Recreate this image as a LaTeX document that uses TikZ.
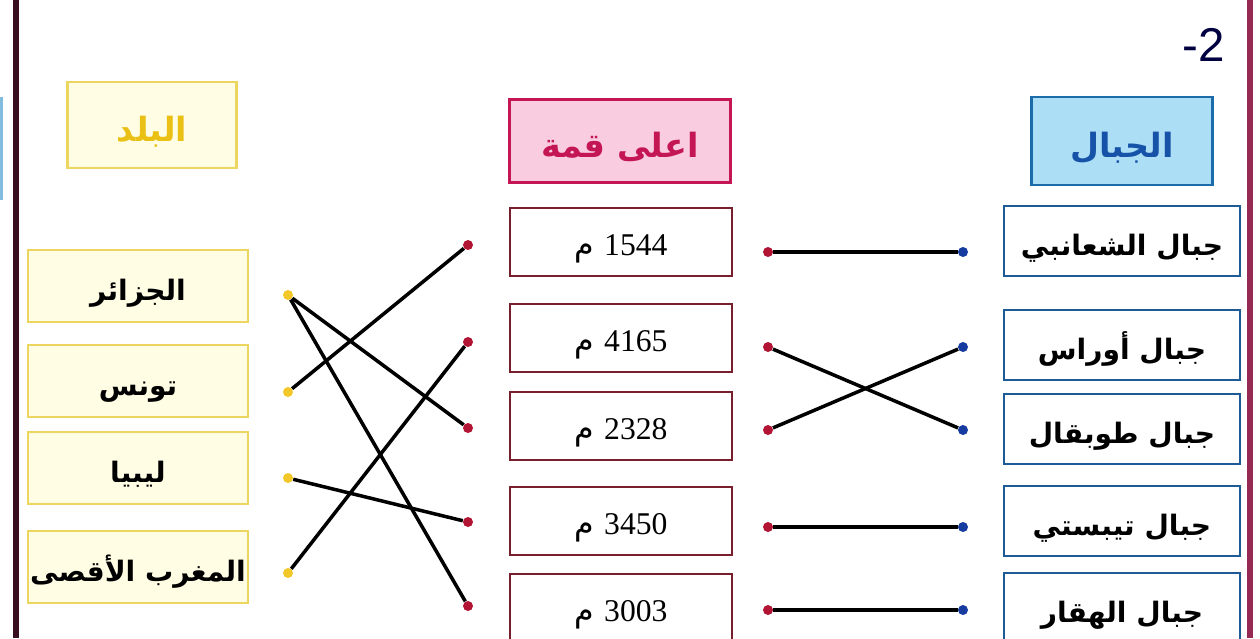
\documentclass[tikz,border=0pt]{standalone}
\usepackage{fontspec}
\setmainfont{Liberation Serif}
\setsansfont{Liberation Sans}
\newfontfamily\arabicfont[Script=Arabic]{DejaVu Sans}
\TeXXeTstate=1
\usepackage{xcolor}
\usetikzlibrary{positioning}

\definecolor{ylwline}{RGB}{236,214,96}
\definecolor{ylwfill}{RGB}{255,253,228}
\definecolor{ylwtext}{RGB}{234,192,20}
\definecolor{pkline}{RGB}{196,22,82}
\definecolor{pkfill}{RGB}{250,204,224}
\definecolor{pkitem}{RGB}{120,30,45}
\definecolor{blline}{RGB}{28,108,170}
\definecolor{blfill}{RGB}{172,222,246}
\definecolor{bltext}{RGB}{22,82,168}
\definecolor{blitem}{RGB}{30,90,150}
\definecolor{dotyl}{RGB}{242,200,40}
\definecolor{dotrd}{RGB}{178,20,52}
\definecolor{dotbl}{RGB}{22,60,160}
\definecolor{frameL}{RGB}{55,15,32}
\definecolor{frameR}{RGB}{150,40,84}

\newcommand\ar[1]{{\beginR #1\endR}}
\newcommand\hgt[1]{{\beginR\beginL{\rmfamily #1}\endL{} م\endR}}

\begin{document}
\begin{tikzpicture}[x=0.2mm,y=-0.2mm,
  every node/.style={inner sep=0pt},
  arfont/.style={font=\arabicfont\bfseries\fontsize{16}{18}\selectfont, text height=6.4mm, text depth=0.6mm},
  hdrfont/.style={font=\arabicfont\bfseries\fontsize{19}{22}\selectfont, text height=7mm, text depth=0.5mm},
  country/.style={draw=ylwline, fill=ylwfill, line width=1.1pt, minimum width=44mm, minimum height=14.4mm, arfont},
  peak/.style={draw=pkitem, fill=white, line width=1.1pt, minimum width=44.4mm, minimum height=13.6mm, font=\fontsize{18}{20}\selectfont, text height=5.2mm, text depth=0mm},
  mountain/.style={draw=blitem, fill=white, line width=1.3pt, minimum width=47.2mm, minimum height=14mm, arfont},
  ydot/.style={circle, fill=dotyl, minimum size=2mm},
  rdot/.style={circle, fill=dotrd, minimum size=2mm},
  bdot/.style={circle, fill=dotbl, minimum size=2mm},
  link/.style={line width=2pt, black}]
\useasboundingbox (0,0) rectangle (1260,638);
\clip (0,0) rectangle (1260,638);

% page frame
\fill[blfill!70!blline] (0,97) rectangle (3,200);
\draw[frameL, line width=3pt] (16,0) -- (16,638);
\draw[frameR, line width=3pt] (1250,0) -- (1250,638);
\node[text=black!75!blue, font=\sffamily\fontsize{27}{30}\selectfont] (num) at (1204,45) {-2};

% headers
\node[hdrfont, draw=ylwline, fill=ylwfill, line width=1.4pt, minimum width=33.8mm, minimum height=17.2mm, text=ylwtext] (hcountry) at (152,125) {\ar{البلد}};
\node[hdrfont, draw=pkline, fill=pkfill, line width=1.6pt, minimum width=44.2mm, minimum height=16.6mm, text=pkline] (hpeak) at (620,141) {\ar{اعلى قمة}};
\node[hdrfont, draw=blline, fill=blfill, line width=1.6pt, minimum width=36.2mm, minimum height=17.6mm, text=bltext] (hmount) at (1122,141) {\ar{الجبال}};

% countries
\node[country] (dz) at (138,286) {\ar{الجزائر}};
\node[country] (tn) at (138,381) {\ar{تونس}};
\node[country] (ly) at (138,468) {\ar{ليبيا}};
\node[country] (ma) at (138,567) {\ar{المغرب الأقصى}};

% heights
\node[peak] (p1) at (621,242) {\arabicfont\hgt{1544}};
\node[peak] (p2) at (621,338) {\arabicfont\hgt{4165}};
\node[peak] (p3) at (621,426) {\arabicfont\hgt{2328}};
\node[peak] (p4) at (621,521) {\arabicfont\hgt{3450}};
\node[peak] (p5) at (621,608) {\arabicfont\hgt{3003}};

% mountains
\node[mountain] (m1) at (1122,241) {\ar{جبال الشعانبي}};
\node[mountain] (m2) at (1122,345) {\ar{جبال أوراس}};
\node[mountain] (m3) at (1122,429) {\ar{جبال طوبقال}};
\node[mountain] (m4) at (1122,521) {\ar{جبال تيبستي}};
\node[mountain] (m5) at (1122,608) {\ar{جبال الهقار}};

% dots
\node[ydot] (cdz) at (288,295) {};
\node[ydot] (ctn) at (288,392) {};
\node[ydot] (cly) at (288,478) {};
\node[ydot] (cma) at (288,573) {};
\node[rdot] (pl1) at (468,245) {};
\node[rdot] (pl2) at (468,342) {};
\node[rdot] (pl3) at (468,428) {};
\node[rdot] (pl4) at (468,522) {};
\node[rdot] (pl5) at (468,606) {};
\node[rdot] (pr1) at (768,252) {};
\node[rdot] (pr2) at (768,347) {};
\node[rdot] (pr3) at (768,430) {};
\node[rdot] (pr4) at (768,527) {};
\node[rdot] (pr5) at (768,610) {};
\node[bdot] (ml1) at (963,252) {};
\node[bdot] (ml2) at (963,347) {};
\node[bdot] (ml3) at (963,430) {};
\node[bdot] (ml4) at (963,527) {};
\node[bdot] (ml5) at (963,610) {};

% answers
\draw[link] (cdz) -- (pl3);
\draw[link] (cdz) -- (pl5);
\draw[link] (ctn) -- (pl1);
\draw[link] (cly) -- (pl4);
\draw[link] (cma) -- (pl2);
\draw[link] (pr1) -- (ml1);
\draw[link] (pr2) -- (ml3);
\draw[link] (pr3) -- (ml2);
\draw[link] (pr4) -- (ml4);
\draw[link] (pr5) -- (ml5);
\end{tikzpicture}
\end{document}
